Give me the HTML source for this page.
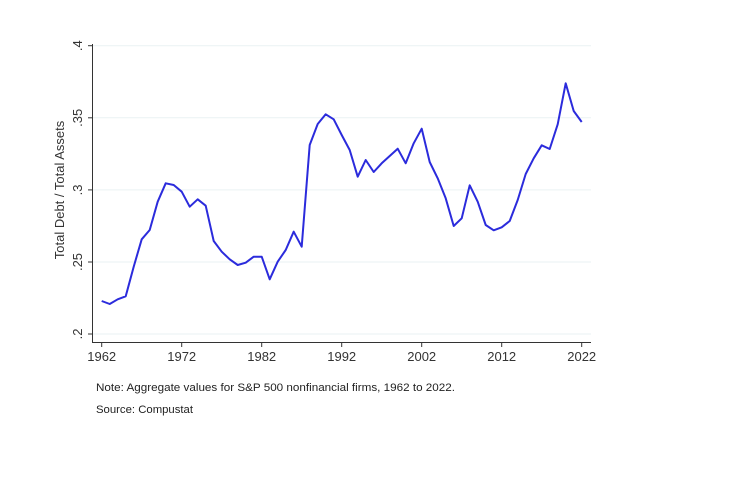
<!DOCTYPE html>
<html><head><style>
html,body{margin:0;padding:0;background:#fff;}
svg{display:block;font-family:"Liberation Sans","DejaVu Sans",sans-serif;}
</style></head><body>
<svg width="738" height="504" viewBox="0 0 738 504" xmlns="http://www.w3.org/2000/svg">
<rect width="738" height="504" fill="#fff"/>
<g stroke="#eaf2f3" stroke-width="1">
<line x1="93" y1="45.7" x2="591" y2="45.7"/>
<line x1="93" y1="117.8" x2="591" y2="117.8"/>
<line x1="93" y1="189.9" x2="591" y2="189.9"/>
<line x1="93" y1="262" x2="591" y2="262"/>
<line x1="93" y1="334" x2="591" y2="334"/>
</g>
<g stroke="#333" stroke-width="1">
<line x1="92.5" y1="44" x2="92.5" y2="342.5"/>
<line x1="92" y1="342.5" x2="591" y2="342.5"/>
<line x1="88" y1="45.7" x2="92.5" y2="45.7"/>
<line x1="88" y1="117.8" x2="92.5" y2="117.8"/>
<line x1="88" y1="189.9" x2="92.5" y2="189.9"/>
<line x1="88" y1="262" x2="92.5" y2="262"/>
<line x1="88" y1="334" x2="92.5" y2="334"/>
<line x1="101.7" y1="342.5" x2="101.7" y2="347"/>
<line x1="181.7" y1="342.5" x2="181.7" y2="347"/>
<line x1="261.7" y1="342.5" x2="261.7" y2="347"/>
<line x1="341.7" y1="342.5" x2="341.7" y2="347"/>
<line x1="421.7" y1="342.5" x2="421.7" y2="347"/>
<line x1="501.7" y1="342.5" x2="501.7" y2="347"/>
<line x1="581.7" y1="342.5" x2="581.7" y2="347"/>
</g>
<g font-size="13" fill="#333" text-anchor="middle">
<text x="101.7" y="361">1962</text>
<text x="181.7" y="361">1972</text>
<text x="261.7" y="361">1982</text>
<text x="341.7" y="361">1992</text>
<text x="421.7" y="361">2002</text>
<text x="501.7" y="361">2012</text>
<text x="581.7" y="361">2022</text>
<text transform="translate(82,45.7) rotate(-90)">.4</text>
<text transform="translate(82,117.8) rotate(-90)">.35</text>
<text transform="translate(82,189.9) rotate(-90)">.3</text>
<text transform="translate(82,262) rotate(-90)">.25</text>
<text transform="translate(82,334) rotate(-90)">.2</text>
<text transform="translate(64,190) rotate(-90)">Total Debt / Total Assets</text>
</g>
<polyline fill="none" stroke="#2b2bdc" stroke-width="2" stroke-linejoin="round" points="
101.7,301 109.7,304 117.7,299.3 125.7,296.3 133.7,266.7 141.7,239.3 149.7,230 157.7,201.7 165.7,183.3 173.7,185 181.7,191.7 189.7,206.7 197.7,199.3 205.7,205.7 213.7,241 221.7,251.7 229.7,259.3 237.7,265 245.7,262.7 253.7,256.7 261.7,256.7 269.7,279.3 277.7,261.7 285.7,250 293.7,231.7 301.7,246.7 309.7,145 317.7,124 325.7,114.3 333.7,119.3 341.7,135 349.7,150 357.7,176.7 365.7,160 373.7,172 381.7,163.3 389.7,156 397.7,148.7 405.7,163.3 413.7,143.3 421.7,128.7 429.7,162 437.7,178.3 445.7,198.3 453.7,226 461.7,218.3 469.7,185.3 477.7,201.7 485.7,225 493.7,230.3 501.7,227.3 509.7,221 517.7,200 525.7,174 533.7,158.3 541.7,145.3 549.7,149 557.7,124.3 565.7,83.3 573.7,111 581.7,122"/>
<g font-size="11" fill="#222">
<text x="96" y="391" textLength="359" lengthAdjust="spacingAndGlyphs">Note: Aggregate values for S&amp;P 500 nonfinancial firms, 1962 to 2022.</text>
<text x="96" y="413" textLength="97" lengthAdjust="spacingAndGlyphs">Source: Compustat</text>
</g>
</svg>
</body></html>
